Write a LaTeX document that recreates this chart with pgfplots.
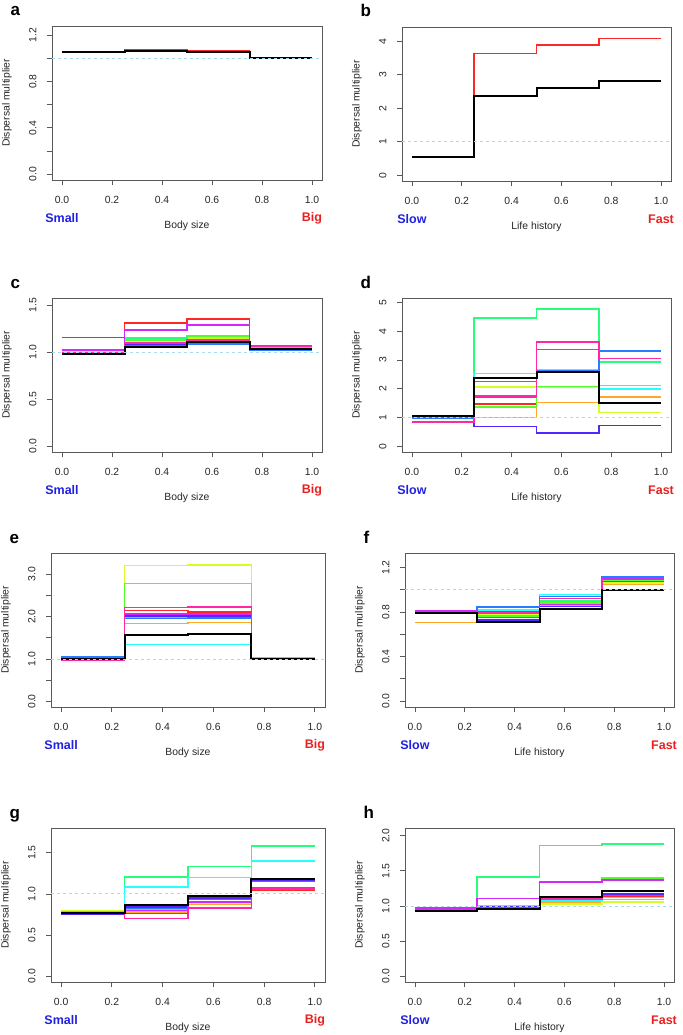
\documentclass[border=0pt]{standalone}
\usepackage{fontspec}
\setmainfont{Liberation Sans}
\usepackage{pgfplots}
\pgfplotsset{compat=1.18}

\definecolor{r1}{HTML}{FF0000}
\definecolor{r2}{HTML}{FF9900}
\definecolor{r3}{HTML}{CCFF00}
\definecolor{r4}{HTML}{33FF00}
\definecolor{r5}{HTML}{00FF66}
\definecolor{r6}{HTML}{00FFFF}
\definecolor{r7}{HTML}{0066FF}
\definecolor{r8}{HTML}{3300FF}
\definecolor{r9}{HTML}{CC00FF}
\definecolor{r10}{HTML}{FF0099}
\definecolor{refblue}{HTML}{A8DCEC}
\definecolor{wblue}{HTML}{2020E0}
\definecolor{wred}{HTML}{E82020}

\pgfplotsset{
  rpanel/.style={
    scale only axis, height=154pt,
    xmin=-0.04, xmax=1.04,
    axis line style={black!65, line width=0.8pt},
    tick style={black!65, line width=0.8pt},
    tick align=outside, major tick length=5pt, tick pos=left,
    xtick={0,0.2,0.4,0.6,0.8,1}, xticklabels={0.0,0.2,0.4,0.6,0.8,1.0},
    ticklabel style={font=\fontsize{10.4}{12}\selectfont, text=black!85},
    yticklabel style={rotate=90, anchor=south},
    xticklabel shift=8pt, yticklabel shift=7pt,
    clip mode=individual,
  },
  panel/.style n args={4}{
    extra description/.code={
      \node[font=\bfseries\fontsize{17}{17}\selectfont, anchor=base west] at ([xshift=-45pt,yshift=10pt]axis description cs:0,1) {#1};
      \node[font=\fontsize{10.4}{12}\selectfont, text=black!85] at ([yshift=-46pt]axis description cs:0.5,0) {#2};
      \node[font=\bfseries\fontsize{12.5}{14}\selectfont, text=wblue] at ([yshift=-38pt]axis description cs:0.037,0) {#3};
      \node[font=\bfseries\fontsize{12.5}{14}\selectfont, text=wred] at ([yshift=-38pt]axis description cs:0.963,0) {#4};
      \node[rotate=90, font=\fontsize{10.4}{12}\selectfont, text=black!85] at ([xshift=-45pt]axis description cs:0,0.5) {Dispersal multiplier};
    }
  },
  st/.style={const plot, line width=1.5pt, color=#1!85!white},
  blk/.style={const plot, line width=2pt, black},
  refl/.style={refblue, line width=1pt, dash pattern=on 3pt off 3pt},
}

\begin{document}
\begin{tikzpicture}
\path[use as bounding box] (0pt,0pt) rectangle (682pt,-1035pt);

% a
\begin{axis}[rpanel, panel={a}{Body size}{Small}{Big},
  at={(52pt,-26pt)}, anchor=north west, width=270pt,
  ymin=-0.05, ymax=1.28,
  ytick={0,0.2,0.4,0.6,0.8,1.0,1.2}, yticklabels={0.0,,0.4,,0.8,,1.2}]
\addplot[st=r1] coordinates {(0,1.060) (0.25,1.072) (0.5,1.062) (0.75,1.0) (1,1.0)};
\addplot[blk] coordinates {(0,1.056) (0.25,1.068) (0.5,1.058) (0.75,1.0) (1,1.0)};
\addplot[refl] coordinates {(-0.04,1) (1.04,1)};
\end{axis}

% b
\begin{axis}[rpanel, panel={b}{Life history}{Slow}{Fast},
  at={(402pt,-27pt)}, anchor=north west, width=269pt,
  ymin=-0.17, ymax=4.43,
  ytick={0,1,2,3,4}, yticklabels={0,1,2,3,4}]
\addplot[st=r1] coordinates {(0,0.54) (0.25,3.64) (0.5,3.89) (0.75,4.09) (1,4.09)};
\addplot[blk] coordinates {(0,0.54) (0.25,2.37) (0.5,2.60) (0.75,2.82) (1,2.82)};
\addplot[refl] coordinates {(-0.04,1) (1.04,1)};
\end{axis}

% c
\begin{axis}[rpanel, panel={c}{Body size}{Small}{Big},
  at={(52pt,-298pt)}, anchor=north west, width=270pt,
  ymin=-0.061, ymax=1.578,
  ytick={0,0.5,1.0,1.5}, yticklabels={0.0,0.5,1.0,1.5}]
\addplot[st=r1] coordinates {(0,1.16) (0.25,1.31) (0.5,1.355) (0.75,1.05) (1,1.05)};
\addplot[st=r2] coordinates {(0,1.00) (0.25,1.10) (0.5,1.13) (0.75,1.04) (1,1.04)};
\addplot[st=r3] coordinates {(0,1.01) (0.25,1.12) (0.5,1.15) (0.75,1.05) (1,1.05)};
\addplot[st=r4] coordinates {(0,1.02) (0.25,1.13) (0.5,1.17) (0.75,1.05) (1,1.05)};
\addplot[st=r5] coordinates {(0,1.02) (0.25,1.15) (0.5,1.18) (0.75,1.06) (1,1.06)};
\addplot[st=r6] coordinates {(0,1.02) (0.25,1.10) (0.5,1.10) (0.75,1.03) (1,1.03)};
\addplot[st=r7] coordinates {(0,1.02) (0.25,1.08) (0.5,1.09) (0.75,1.02) (1,1.02)};
\addplot[st=r8] coordinates {(0,1.03) (0.25,1.09) (0.5,1.12) (0.75,1.07) (1,1.07)};
\addplot[st=r9] coordinates {(0,1.025) (0.25,1.24) (0.5,1.29) (0.75,1.065) (1,1.065)};
\addplot[st=r10] coordinates {(0,1.00) (0.25,1.10) (0.5,1.13) (0.75,1.06) (1,1.06)};
\addplot[blk] coordinates {(0,0.982) (0.25,1.06) (0.5,1.106) (0.75,1.035) (1,1.035)};
\addplot[refl] coordinates {(-0.04,1) (1.04,1)};
\end{axis}

% d
\begin{axis}[rpanel, panel={d}{Life history}{Slow}{Fast},
  at={(402pt,-298pt)}, anchor=north west, width=269pt,
  ymin=-0.2, ymax=5.16,
  ytick={0,1,2,3,4,5}, yticklabels={0,1,2,3,4,5}]
\addplot[st=r1] coordinates {(0,1.0) (0.25,1.47) (0.5,2.68) (0.75,2.92) (1,2.92)};
\addplot[st=r2] coordinates {(0,1.0) (0.25,1.0) (0.5,1.53) (0.75,1.72) (1,1.72)};
\addplot[st=r3] coordinates {(0,1.0) (0.25,2.06) (0.5,2.06) (0.75,1.18) (1,1.18)};
\addplot[st=r4] coordinates {(0,1.0) (0.25,1.37) (0.5,2.08) (0.75,2.12) (1,2.12)};
\addplot[st=r5] coordinates {(0,0.98) (0.25,4.47) (0.5,4.77) (0.75,2.94) (1,2.94)};
\addplot[st=r6] coordinates {(0,1.0) (0.25,2.53) (0.5,2.65) (0.75,1.99) (1,1.99)};
\addplot[st=r7] coordinates {(0,0.98) (0.25,2.25) (0.5,2.62) (0.75,3.32) (1,3.32)};
\addplot[st=r8] coordinates {(0,0.85) (0.25,0.68) (0.5,0.46) (0.75,0.73) (1,0.73)};
\addplot[st=r9] coordinates {(0,0.85) (0.25,1.72) (0.5,3.36) (0.75,3.05) (1,3.05)};
\addplot[st=r10] coordinates {(0,0.85) (0.25,1.75) (0.5,3.62) (0.75,3.06) (1,3.06)};
\addplot[blk] coordinates {(0,1.05) (0.25,2.37) (0.5,2.60) (0.75,1.50) (1,1.50)};
\addplot[refl] coordinates {(-0.04,1) (1.04,1)};
\end{axis}

% e
\begin{axis}[rpanel, panel={e}{Body size}{Small}{Big},
  at={(51pt,-553pt)}, anchor=north west, width=274pt,
  ymin=-0.13, ymax=3.50,
  ytick={0,0.5,1.0,1.5,2.0,2.5,3.0}, yticklabels={0.0,,1.0,,2.0,,3.0}]
\addplot[st=r1] coordinates {(0,1.0) (0.25,2.14) (0.5,2.11) (0.75,1.0) (1,1.0)};
\addplot[st=r2] coordinates {(0,1.0) (0.25,1.84) (0.5,1.86) (0.75,1.0) (1,1.0)};
\addplot[st=r3] coordinates {(0,1.02) (0.25,3.21) (0.5,3.22) (0.75,1.02) (1,1.02)};
\addplot[st=r4] coordinates {(0,1.02) (0.25,2.78) (0.5,2.78) (0.75,1.03) (1,1.03)};
\addplot[st=r5] coordinates {(0,1.03) (0.25,1.98) (0.5,1.99) (0.75,1.02) (1,1.02)};
\addplot[st=r6] coordinates {(0,1.06) (0.25,1.34) (0.5,1.34) (0.75,1.01) (1,1.01)};
\addplot[st=r7] coordinates {(0,1.05) (0.25,1.96) (0.5,1.97) (0.75,1.01) (1,1.01)};
\addplot[st=r8] coordinates {(0,1.0) (0.25,2.01) (0.5,2.02) (0.75,1.0) (1,1.0)};
\addplot[st=r9] coordinates {(0,0.99) (0.25,2.06) (0.5,2.06) (0.75,1.0) (1,1.0)};
\addplot[st=r10] coordinates {(0,0.98) (0.25,2.22) (0.5,2.23) (0.75,0.99) (1,0.99)};
\addplot[blk] coordinates {(0,1.0) (0.25,1.57) (0.5,1.59) (0.75,1.0) (1,1.0)};
\addplot[refl] coordinates {(-0.04,1) (1.04,1)};
\end{axis}

% f
\begin{axis}[rpanel, panel={f}{Life history}{Slow}{Fast},
  at={(405pt,-553pt)}, anchor=north west, width=269pt,
  ymin=-0.053, ymax=1.33,
  ytick={0,0.2,0.4,0.6,0.8,1.0,1.2}, yticklabels={0.0,,0.4,,0.8,,1.2}]
\addplot[st=r1] coordinates {(0,0.80) (0.25,0.80) (0.5,0.89) (0.75,1.08) (1,1.08)};
\addplot[st=r2] coordinates {(0,0.705) (0.25,0.78) (0.5,0.86) (0.75,1.05) (1,1.05)};
\addplot[st=r3] coordinates {(0,0.80) (0.25,0.78) (0.5,0.87) (0.75,1.06) (1,1.06)};
\addplot[st=r4] coordinates {(0,0.80) (0.25,0.76) (0.5,0.88) (0.75,1.085) (1,1.085)};
\addplot[st=r5] coordinates {(0,0.80) (0.25,0.77) (0.5,0.90) (0.75,1.09) (1,1.09)};
\addplot[st=r6] coordinates {(0,0.80) (0.25,0.82) (0.5,0.957) (0.75,1.10) (1,1.10)};
\addplot[st=r7] coordinates {(0,0.80) (0.25,0.846) (0.5,0.94) (0.75,1.12) (1,1.12)};
\addplot[st=r8] coordinates {(0,0.815) (0.25,0.73) (0.5,0.85) (0.75,1.10) (1,1.10)};
\addplot[st=r9] coordinates {(0,0.81) (0.25,0.75) (0.5,0.867) (0.75,1.105) (1,1.105)};
\addplot[st=r10] coordinates {(0,0.80) (0.25,0.79) (0.5,0.92) (0.75,1.09) (1,1.09)};
\addplot[blk] coordinates {(0,0.79) (0.25,0.707) (0.5,0.83) (0.75,1.0) (1,1.0)};
\addplot[refl] coordinates {(-0.04,1) (1.04,1)};
\end{axis}

% g
\begin{axis}[rpanel, panel={g}{Body size}{Small}{Big},
  at={(51pt,-828pt)}, anchor=north west, width=274pt,
  ymin=-0.069, ymax=1.80,
  ytick={0,0.5,1.0,1.5}, yticklabels={0.0,0.5,1.0,1.5}]
\addplot[st=r1] coordinates {(0,0.78) (0.25,0.76) (0.5,0.87) (0.75,1.05) (1,1.05)};
\addplot[st=r2] coordinates {(0,0.79) (0.25,0.78) (0.5,0.88) (0.75,1.06) (1,1.06)};
\addplot[st=r3] coordinates {(0,0.79) (0.25,0.80) (0.5,0.89) (0.75,1.07) (1,1.07)};
\addplot[st=r4] coordinates {(0,0.78) (0.25,0.82) (0.5,0.91) (0.75,1.07) (1,1.07)};
\addplot[st=r5] coordinates {(0,0.77) (0.25,1.206) (0.5,1.33) (0.75,1.58) (1,1.58)};
\addplot[st=r6] coordinates {(0,0.77) (0.25,1.085) (0.5,1.20) (0.75,1.40) (1,1.40)};
\addplot[st=r7] coordinates {(0,0.75) (0.25,0.83) (0.5,0.94) (0.75,1.15) (1,1.15)};
\addplot[st=r8] coordinates {(0,0.75) (0.25,0.84) (0.5,0.95) (0.75,1.16) (1,1.16)};
\addplot[st=r9] coordinates {(0,0.76) (0.25,0.80) (0.5,0.90) (0.75,1.08) (1,1.08)};
\addplot[st=r10] coordinates {(0,0.77) (0.25,0.70) (0.5,0.83) (0.75,1.06) (1,1.06)};
\addplot[blk] coordinates {(0,0.766) (0.25,0.86) (0.5,0.97) (0.75,1.18) (1,1.18)};
\addplot[refl] coordinates {(-0.04,1) (1.04,1)};
\end{axis}

% h
\begin{axis}[rpanel, panel={h}{Life history}{Slow}{Fast},
  at={(405pt,-828pt)}, anchor=north west, width=269pt,
  ymin=-0.081, ymax=2.11,
  ytick={0,0.5,1.0,1.5,2.0}, yticklabels={0.0,0.5,1.0,1.5,2.0}]
\addplot[st=r1] coordinates {(0,0.95) (0.25,0.97) (0.5,1.09) (0.75,1.13) (1,1.13)};
\addplot[st=r2] coordinates {(0,0.96) (0.25,0.98) (0.5,1.06) (0.75,1.09) (1,1.09)};
\addplot[st=r3] coordinates {(0,0.97) (0.25,0.99) (0.5,1.03) (0.75,1.06) (1,1.06)};
\addplot[st=r4] coordinates {(0,0.96) (0.25,1.0) (0.5,1.35) (0.75,1.40) (1,1.40)};
\addplot[st=r5] coordinates {(0,0.97) (0.25,1.41) (0.5,1.863) (0.75,1.88) (1,1.88)};
\addplot[st=r6] coordinates {(0,0.97) (0.25,1.0) (0.5,1.08) (0.75,1.12) (1,1.12)};
\addplot[st=r7] coordinates {(0,0.96) (0.25,0.98) (0.5,1.11) (0.75,1.16) (1,1.16)};
\addplot[st=r8] coordinates {(0,0.97) (0.25,0.99) (0.5,1.13) (0.75,1.17) (1,1.17)};
\addplot[st=r9] coordinates {(0,0.97) (0.25,1.11) (0.5,1.34) (0.75,1.37) (1,1.37)};
\addplot[st=r10] coordinates {(0,0.95) (0.25,0.98) (0.5,1.10) (0.75,1.15) (1,1.15)};
\addplot[blk] coordinates {(0,0.936) (0.25,0.96) (0.5,1.125) (0.75,1.215) (1,1.215)};
\addplot[refl] coordinates {(-0.04,1) (1.04,1)};
\end{axis}
\end{tikzpicture}
\end{document}
